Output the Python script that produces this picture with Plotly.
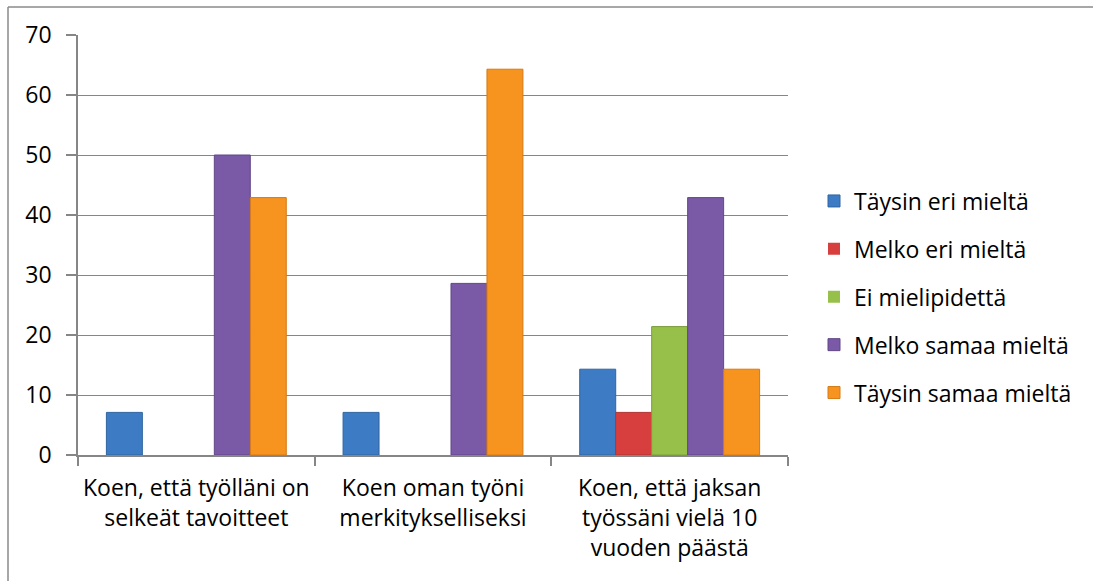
import plotly.graph_objects as go

# Survey statements (x categories) and answer shares in percent
categories = [
    "Koen, että työlläni on<br>selkeät tavoitteet",
    "Koen oman työni<br>merkitykselliseksi",
    "Koen, että jaksan<br>työssäni vielä 10<br>vuoden päästä",
]
series_names = [
    "Täysin eri mieltä",
    "Melko eri mieltä",
    "Ei mielipidettä",
    "Melko samaa mieltä",
    "Täysin samaa mieltä",
]
taysin_eri = [7.1, 7.1, 14.3]
melko_eri = [0, 0, 7.1]
ei_mielipidetta = [0, 0, 21.4]
melko_samaa = [50.0, 28.6, 42.9]
taysin_samaa = [42.9, 64.3, 14.3]

series_values = [taysin_eri, melko_eri, ei_mielipidetta, melko_samaa, taysin_samaa]
fill_colors = ["#3d7cc4", "#d63f3e", "#97c04a", "#7a59a6", "#f7931f"]
edge_colors = ["#30649f", "#b03331", "#7a9c3a", "#624788", "#d47a17"]

FONT = "Open Sans"
FS = 23
AX = "#868686"

fig = go.Figure()
for name, vals, fc, ec in zip(series_names, series_values, fill_colors, edge_colors):
    fig.add_trace(go.Bar(
        name=name,
        x=categories,
        y=vals,
        legendgroup=name,
        marker=dict(
            color=fc,
            # outline only on non-empty bars so zero bars stay invisible
            line=dict(color=ec, width=[1 if v > 0 else 0 for v in vals]),
        ),
        hoverinfo="x+y+name",
    ))

W, H = 1093, 581
ml, mr, mt, mb = 78, 305, 35, 126
pw, ph = W - ml - mr, H - mt - mb


def px_x(x):
    return (x - ml) / pw


def px_y(y):
    return (H - mb - y) / ph


fig.update_layout(
    width=W,
    height=H,
    margin=dict(l=ml, r=mr, t=mt, b=mb, autoexpand=False),
    paper_bgcolor="white",
    plot_bgcolor="white",
    barmode="group",
    bargap=0.24,
    bargroupgap=0,
    font=dict(family=FONT, size=FS, color="#000000"),
    legend=dict(
        x=px_x(814),
        y=px_y(297),
        xanchor="left",
        yanchor="middle",
        traceorder="grouped",
        tracegroupgap=15,
        font=dict(family=FONT, size=FS, color="#000000"),
        itemwidth=30,
        bgcolor="rgba(0,0,0,0)",
    ),
    xaxis=dict(
        showline=True,
        linecolor=AX,
        linewidth=1.5,
        ticks="outside",
        tickson="boundaries",
        ticklen=9,
        tickcolor=AX,
        tickwidth=1.5,
        showgrid=False,
        tickfont=dict(family=FONT, size=FS, color="#000000"),
        ticklabelstandoff=12,
    ),
    yaxis=dict(
        range=[0, 70],
        dtick=10,
        showline=True,
        linecolor=AX,
        linewidth=1.5,
        ticks="outside",
        ticklen=10,
        tickcolor=AX,
        tickwidth=1.5,
        showgrid=True,
        gridcolor=AX,
        gridwidth=1.2,
        zeroline=False,
        tickfont=dict(family=FONT, size=FS, color="#000000"),
        ticklabelstandoff=10,
    ),
    shapes=[
        # outer chart frame (top and left edges)
        dict(type="line", xref="paper", yref="paper",
             x0=px_x(8), x1=px_x(1093), y0=px_y(7), y1=px_y(7),
             line=dict(color="#8a8a8a", width=1.5)),
        dict(type="line", xref="paper", yref="paper",
             x0=px_x(8), x1=px_x(8), y0=px_y(7), y1=px_y(581),
             line=dict(color="#8a8a8a", width=1.5)),
    ],
)

fig.write_html("out.html")
